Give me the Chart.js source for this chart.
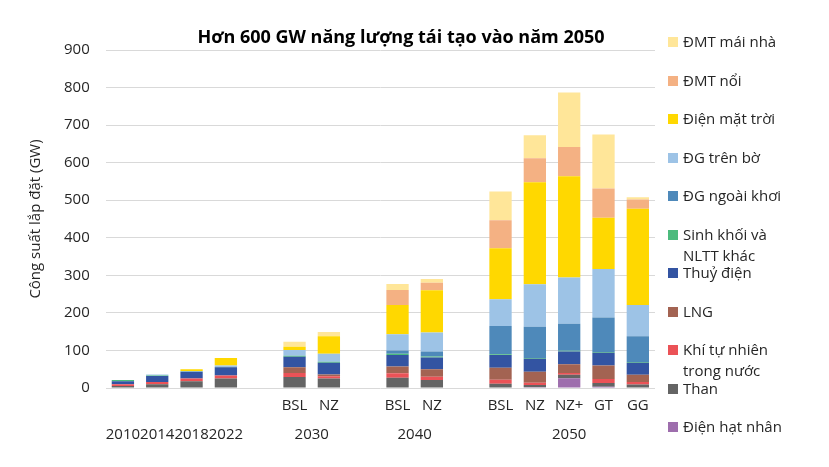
<!DOCTYPE html>
<html>
<head>
<meta charset="utf-8">
<script src="https://cdn.jsdelivr.net/npm/chart.js@4/dist/chart.umd.min.js"></script>
<style>
body { margin: 0; background: #fff; }
#wrap { position: relative; width: 829px; height: 467px; font-family: 'Open Sans', sans-serif; color: #262626; }
#chart-title {
    position: absolute; left: 0; width: 802px; top: 24px;
    text-align: center; font-weight: 700; font-size: 18px; line-height: 24px; color: #000;
}
#legend { position: absolute; left: 668px; top: 0; }
.legend-item { position: absolute; white-space: nowrap; font-size: 15px; line-height: 21px; }
.legend-item span.box { position: absolute; left: 0; top: 6px; width: 10px; height: 10px; }
.legend-item span.txt { position: absolute; left: 15px; top: 0; }
</style>
</head>
<body>
<div id="wrap">
    <canvas id="capacityChart" width="829" height="467"></canvas>
    <div id="chart-title">Hơn 600 GW năng lượng tái tạo vào năm 2050</div>
    <div id="legend"></div>
</div>

<script>
// Categories: one slot per bar, empty slots separate the groups
const scenarioLabels = ['', '', '', '', '', 'BSL', 'NZ', '', 'BSL', 'NZ', '', 'BSL', 'NZ', 'NZ+', 'GT', 'GG'];
const yearLabels = ['2010', '2014', '2018', '2022', '', '2030', '2030', '', '2040', '2040', '', '2050', '2050', '2050', '2050', '2050'];

// Installed capacity (GW), stacked bottom -> top
const nuclear  = [0, 0, 0, 0, null, 0, 0, null, 0, 0, null, 0, 2, 26, 3, 0];
const coal     = [5, 10, 18, 25, null, 29, 25, null, 27, 21, null, 11, 6, 9, 10, 9];
const gas      = [5, 6, 7, 8, null, 11, 6, null, 12, 9, null, 11, 6, 5, 11, 7];
const lng      = [0, 0, 0, 0, null, 15, 5, null, 18, 20, null, 32, 29, 23, 36, 19];
const hydro    = [8, 16, 18, 22, null, 28, 31, null, 31, 31, null, 34, 35, 34, 34, 32];
const biomass  = [3, 1, 1, 1, null, 3, 3, null, 3, 3, null, 2, 2, 2, 2, 2];
const offshore = [0, 0, 0, 0, null, 0, 0, null, 9, 13, null, 75, 83, 72, 92, 69];
const onshore  = [0, 3, 1, 4, null, 15, 21, null, 43, 51, null, 71, 113, 123, 129, 83];
const solar    = [0, 0, 5, 20, null, 9, 47, null, 78, 112, null, 136, 272, 270, 136, 256];
const floating = [0, 0, 0, 0, null, 0, 0, null, 40, 20, null, 75, 64, 78, 78, 25];
const rooftop  = [0, 0, 0, 0, null, 13, 11, null, 16, 10, null, 76, 61, 145, 144, 6];

const seriesNames = ['Điện hạt nhân', 'Than', ['Khí tự nhiên', 'trong nước'], 'LNG', 'Thuỷ điện',
    ['Sinh khối và', 'NLTT khác'], 'ĐG ngoài khơi', 'ĐG trên bờ', 'Điện mặt trời', 'ĐMT nổi', 'ĐMT mái nhà'];
const seriesData = [nuclear, coal, gas, lng, hydro, biomass, offshore, onshore, solar, floating, rooftop];
const seriesColors = ['#9E6EAD', '#646464', '#EB5257', '#A36352', '#3354A2',
    '#4CBB7D', '#4E89BA', '#9DC3E6', '#FFD800', '#F4B183', '#FFE699'];

// second axis row: one tick in the middle of each run of equal year labels
const groupTicks = [];
yearLabels.forEach((label, i) => {
    if (!label) return;
    const last = groupTicks[groupTicks.length - 1];
    if (last && last.label === label && last.end === i - 1) {
        last.end = i;
    } else {
        groupTicks.push({ label: label, start: i, end: i });
    }
});

Chart.defaults.font.family = "'Open Sans', sans-serif";
Chart.defaults.font.size = 15;
Chart.defaults.color = '#262626';

const ctx = document.getElementById('capacityChart').getContext('2d');
const capacityChart = new Chart(ctx, {
    type: 'bar',
    data: {
        labels: scenarioLabels,
        datasets: seriesNames.map((name, i) => ({
            label: name,
            data: seriesData[i],
            backgroundColor: seriesColors[i],
            borderWidth: 0,
            barPercentage: 0.65,
            categoryPercentage: 1
        }))
    },
    options: {
        responsive: false,
        animation: false,
        layout: { padding: { top: 50, right: 174, bottom: 21, left: 0 } },
        plugins: {
            legend: { display: false },
            title: { display: false },
            tooltip: { enabled: false }
        },
        scales: {
            x: {
                stacked: true,
                grid: { display: false, drawTicks: false },
                border: { display: false },
                ticks: { autoSkip: false, maxRotation: 0, minRotation: 0, padding: 9 }
            },
            x2: {
                type: 'linear',
                position: 'bottom',
                offset: false,
                min: -0.5,
                max: 15.5,
                grid: { display: false, drawTicks: false, offset: false },
                border: { display: false },
                afterBuildTicks: (scale) => {
                    scale.ticks = groupTicks.map(g => ({ value: (g.start + g.end) / 2 }));
                },
                ticks: {
                    autoSkip: false, maxRotation: 0, minRotation: 0, padding: 2,
                    callback: (value, index) => groupTicks[index] ? groupTicks[index].label : ''
                }
            },
            y: {
                stacked: true,
                min: 0,
                max: 900,
                grid: { color: '#d9d9d9', drawTicks: false },
                border: { display: false },
                ticks: { stepSize: 100, padding: 16 },
                title: {
                    display: true,
                    text: 'Công suất lắp đặt (GW)',
                    padding: { top: 27, bottom: 3 }
                }
            }
        }
    }
});

// Legend in the same order as the stacked reference (top of stack first)
const legendEl = document.getElementById('legend');
capacityChart.data.datasets.slice().reverse().forEach((ds, i) => {
    const lines = Array.isArray(ds.label) ? ds.label : [ds.label];
    const item = document.createElement('div');
    item.className = 'legend-item';
    item.style.top = (31 + i * 38.5) + 'px';
    item.innerHTML = '<span class="box" style="background:' + ds.backgroundColor + '"></span>' +
        '<span class="txt">' + lines.join('<br>') + '</span>';
    legendEl.appendChild(item);
});
</script>
</body>
</html>
